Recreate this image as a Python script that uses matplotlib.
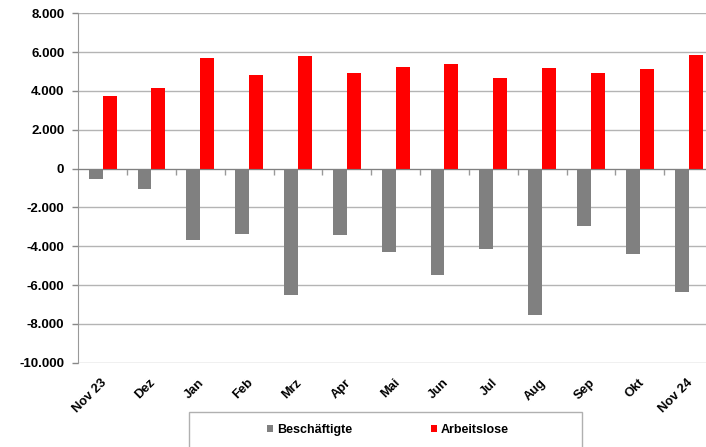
import matplotlib
matplotlib.use("Agg")
import matplotlib.pyplot as plt
from matplotlib.patches import Rectangle
import numpy as np

categories = ["Nov 23", "Dez", "Jan", "Feb", "Mrz", "Apr", "Mai", "Jun", "Jul", "Aug", "Sep", "Okt", "Nov 24"]
beschaeftigte = [-560, -1060, -3690, -3380, -6510, -3420, -4320, -5500, -4150, -7560, -2940, -4410, -6360]
arbeitslose = [3730, 4150, 5710, 4820, 5780, 4910, 5250, 5370, 4680, 5200, 4940, 5150, 5860]
yticks = [-10000, -8000, -6000, -4000, -2000, 0, 2000, 4000, 6000, 8000]
yticklabels = ["-10.000", "-8.000", "-6.000", "-4.000", "-2.000", "0", "2.000", "4.000", "6.000", "8.000"]
series_names = ["Beschäftigte", "Arbeitslose"]

plt.rcParams['font.family'] = ['Liberation Sans', 'DejaVu Sans']
plt.rcParams['font.weight'] = 'bold'
FS = 9.3

fig = plt.figure(figsize=(7.06, 4.47), dpi=100)
W, H = 706, 447
ax = fig.add_axes([78.2 / W, 1 - 362.7 / H, (713 - 78.2) / W, (362.7 - 13.3) / H])

x = np.arange(len(categories))
bw = 0.285
b1 = ax.bar(x - bw / 2, beschaeftigte, width=bw, color="#808080", zorder=3, label=series_names[0])
b2 = ax.bar(x + bw / 2, arbeitslose, width=bw, color="#ff0000", zorder=3, label=series_names[1])

ax.set_xlim(-0.5, len(categories) - 0.5)
ax.set_ylim(-10000, 8000)
ax.set_yticks(yticks)
ax.set_yticklabels(yticklabels, fontsize=FS + 0.2, fontweight='bold')
ax.yaxis.grid(True, color="#b4b4b4", linewidth=1.0, zorder=0)
ax.tick_params(axis='y', length=4, width=1, color="#888888", pad=6)

for s in ["top", "right"]:
    ax.spines[s].set_visible(False)
ax.spines["left"].set_color("#999999")
ax.spines["bottom"].set_position(("data", 0))
ax.spines["bottom"].set_color("#808080")
ax.spines["bottom"].set_zorder(4)
ax.set_xticks(np.arange(0.5, len(categories) - 0.5, 1.0))
ax.set_xticklabels([])
ax.tick_params(axis='x', length=4, width=1, color="#999999", direction='out')

trans = ax.get_xaxis_transform()
for xi, lab in zip(x, categories):
    ax.annotate(lab, xy=(xi - 0.04, 0), xycoords=trans, xytext=(0, -10), textcoords='offset points',
                rotation=45, rotation_mode='anchor', ha='right', va='top',
                fontsize=FS, fontweight='bold')

# legend box
fig.patches.append(Rectangle((188.6 / W, -0.01), (582 - 188.6) / W, (447 - 412) / H + 0.01,
                             transform=fig.transFigure, facecolor='white', edgecolor='#b0b0b0',
                             linewidth=1.0))
fig.legend(handles=[b1, b2], labels=series_names, loc='center',
           bbox_to_anchor=(388 / W, 1 - 430 / H), ncol=2, frameon=False,
           fontsize=FS - 0.3, handlelength=0.5, handleheight=0.55, handletextpad=0.3,
           columnspacing=6.3, borderpad=0.2)

fig.savefig("out.png", dpi=100)
